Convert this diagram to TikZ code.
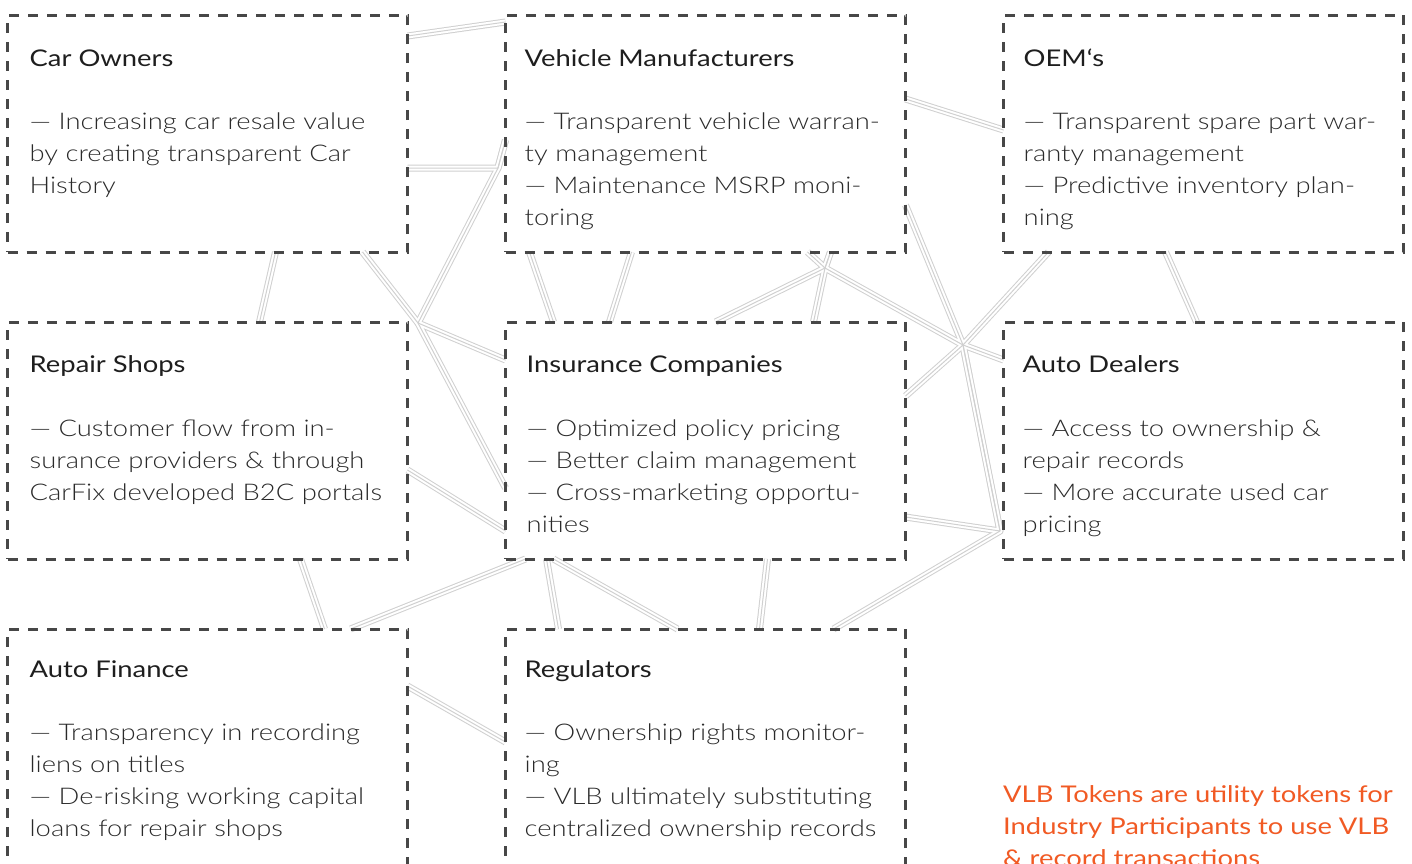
\documentclass[tikz,border=0pt]{standalone}
\usepackage{fontspec}
\setmainfont{Lato}[FakeStretch=1.19]
\newfontfamily\lightfont{Lato Light}[FakeStretch=1.19]
\usetikzlibrary{positioning,backgrounds}

\definecolor{edgegray}{HTML}{474747}
\definecolor{roadgray}{HTML}{D0D0D0}
\definecolor{titleink}{HTML}{1E1E1E}
\definecolor{bodyink}{HTML}{2A2A2A}
\definecolor{tokenorange}{HTML}{F15A24}

% all links between the cards, drawn once per pass
\newcommand\roadnet[1]{%
  \draw[#1] ([yshift=-21pt]car.north east) -- ([yshift=-7pt]vm.north west);
  \draw[#1] ([yshift=-84pt]vm.north east) -- ([yshift=-115pt]oem.north west);
  \draw[#1] ([xshift=268pt]car.south west) -- ([xshift=252pt]repair.north west);
  \draw[#1] ([xshift=24pt]vm.south west) -- ([xshift=48pt]ins.north west);
  \draw[#1] ([xshift=126pt]vm.south west) -- ([xshift=104pt]ins.north west);
  \draw[#1] ([xshift=162pt]oem.south west) -- ([xshift=193pt]dealers.north west);
  % hubs on the left
  \draw[#1] ([yshift=-153pt]car.north east) -- (j1) -- ([yshift=-125pt]vm.north west);
  \draw[#1] ([yshift=-125pt]vm.north west) -- (j1) -- (j2) -- ([yshift=-38pt]ins.north west);
  \draw[#1] ([xshift=-45pt]car.south east) -- (j2) -- ([yshift=-166pt]ins.north west);
  % hubs on the right
  \draw[#1] ([xshift=302pt]vm.south west) -- (j3) -- (j4) -- ([yshift=-38pt]dealers.north west);
  \draw[#1] ([xshift=-75pt]vm.south east) -- (j3) -- ([xshift=210pt]ins.north west);
  \draw[#1] ([xshift=-75pt]vm.south east) -- (j3) -- ([xshift=308pt]ins.north west);
  \draw[#1] ([yshift=-190pt]vm.north east) -- (j4) -- (j5) -- ([yshift=-195pt]ins.north east);
  \draw[#1] ([xshift=45pt]oem.south west) -- (j4) -- ([yshift=-74pt]ins.north east);
  \draw[#1] (j4) -- (j5) -- ([xshift=-72pt]regs.north east);
  % lower rows
  \draw[#1] ([yshift=-148pt]repair.north east) -- ([yshift=-209pt]ins.north west);
  \draw[#1] ([xshift=293pt]repair.south west) -- ([xshift=317pt]finance.north west);
  \draw[#1] ([xshift=20pt]ins.south west) -- ([xshift=343pt]finance.north west);
  \draw[#1] ([xshift=41pt]ins.south west) -- ([xshift=53pt]regs.north west);
  \draw[#1] ([xshift=48pt]ins.south west) -- ([xshift=172pt]regs.north west);
  \draw[#1] ([xshift=-138pt]ins.south east) -- ([xshift=-146pt]regs.north east);
  \draw[#1] ([yshift=-57pt]finance.north east) -- ([yshift=-113pt]regs.north west);
}

\begin{document}
\begin{tikzpicture}[x=1pt,y=-1pt,
node distance=70pt and 98pt,
card/.style={draw=edgegray, line width=3pt, dash pattern=on 10pt off 9pt,
  minimum width=400pt, minimum height=237pt, inner sep=0pt, outer sep=0pt},
headline/.style={anchor=base west, inner sep=0pt, text=titleink,
  font=\fontsize{23}{32}\selectfont},
bodytext/.style={anchor=north west, inner sep=0pt, align=left, text=bodyink,
  font=\lightfont\fontsize{23}{32}\selectfont, execute at begin node=\strut},
tokennote/.style={anchor=north west, inner sep=0pt, align=left, text=tokenorange,
  font=\fontsize{23}{32}\selectfont, execute at begin node=\strut},
roadout/.style={draw=roadgray, line width=7pt, line join=round},
roadgap/.style={draw=white, line width=5pt, line join=round},
roadmid/.style={draw=roadgray, line width=1pt, line join=round}
]
\useasboundingbox (0,0) rectangle (1412,863);
\clip (0,0) rectangle (1412,863);

% cards
\node[card] (car) at (207.5,133.5) {};
\node[card, right=of car] (vm) {};
\node[card, right=of vm] (oem) {};
\node[card, below=of car] (repair) {};
\node[card, right=of repair] (ins) {};
\node[card, right=of ins] (dealers) {};
\node[card, below=of repair] (finance) {};
\node[card, right=of finance] (regs) {};

% hubs
\coordinate (j1) at (498,168);
\coordinate (j2) at (418,323);
\coordinate (j3) at (825,268);
\coordinate (j4) at (963,345);
\coordinate (j5) at (1000,531);

\begin{pgfonlayer}{background}
  \fill[white] (0,0) rectangle (1412,863);
  \roadnet{roadout}
  \roadnet{roadgap}
  \roadnet{roadmid}
\end{pgfonlayer}

% texts
\node[headline] (cartitle) at ([xshift=22pt,yshift=-51pt]car.north west) {Car Owners};
\node[bodytext] (cartext) at ([xshift=22pt,yshift=-97.6pt]car.north west)
  {— Increasing car resale value\\by creating transparent Car\\History};
\node[headline] (vmtitle) at ([xshift=19pt,yshift=-51pt]vm.north west) {Vehicle Manufacturers};
\node[bodytext] (vmtext) at ([xshift=19pt,yshift=-97.6pt]vm.north west)
  {— Transparent vehicle warran-\\ty management\\— Maintenance MSRP moni-\\toring};
\node[headline] (oemtitle) at ([xshift=20pt,yshift=-51pt]oem.north west) {OEM‘s};
\node[bodytext] (oemtext) at ([xshift=20pt,yshift=-97.6pt]oem.north west)
  {— Transparent spare part war-\\ranty management\\— Predictive inventory plan-\\ning};
\node[headline] (repairtitle) at ([xshift=22pt,yshift=-50pt]repair.north west) {Repair Shops};
\node[bodytext] (repairtext) at ([xshift=22pt,yshift=-97.6pt]repair.north west)
  {— Customer flow from in-\\surance providers \& through\\CarFix developed B2C portals};
\node[headline] (institle) at ([xshift=21pt,yshift=-50pt]ins.north west) {Insurance Companies};
\node[bodytext] (instext) at ([xshift=21pt,yshift=-97.6pt]ins.north west)
  {— Optimized policy pricing\\— Better claim management\\— Cross-marketing opportu-\\nities};
\node[headline] (dealerstitle) at ([xshift=19pt,yshift=-50pt]dealers.north west) {Auto Dealers};
\node[bodytext] (dealerstext) at ([xshift=19pt,yshift=-97.6pt]dealers.north west)
  {— Access to ownership \&\\repair records\\— More accurate used car\\pricing};
\node[headline] (financetitle) at ([xshift=22pt,yshift=-48pt]finance.north west) {Auto Finance};
\node[bodytext] (financetext) at ([xshift=22pt,yshift=-94.6pt]finance.north west)
  {— Transparency in recording\\liens on titles\\— De-risking working capital\\loans for repair shops};
\node[headline] (regstitle) at ([xshift=19pt,yshift=-48pt]regs.north west) {Regulators};
\node[bodytext] (regstext) at ([xshift=19pt,yshift=-94.6pt]regs.north west)
  {— Ownership rights monitor-\\ing\\— VLB ultimately substituting\\centralized ownership records};

\node[tokennote] (tokens) at (1003,785.6)
  {VLB Tokens are utility tokens for\\Industry Participants to use VLB\\\& record transactions};
\end{tikzpicture}
\end{document}
